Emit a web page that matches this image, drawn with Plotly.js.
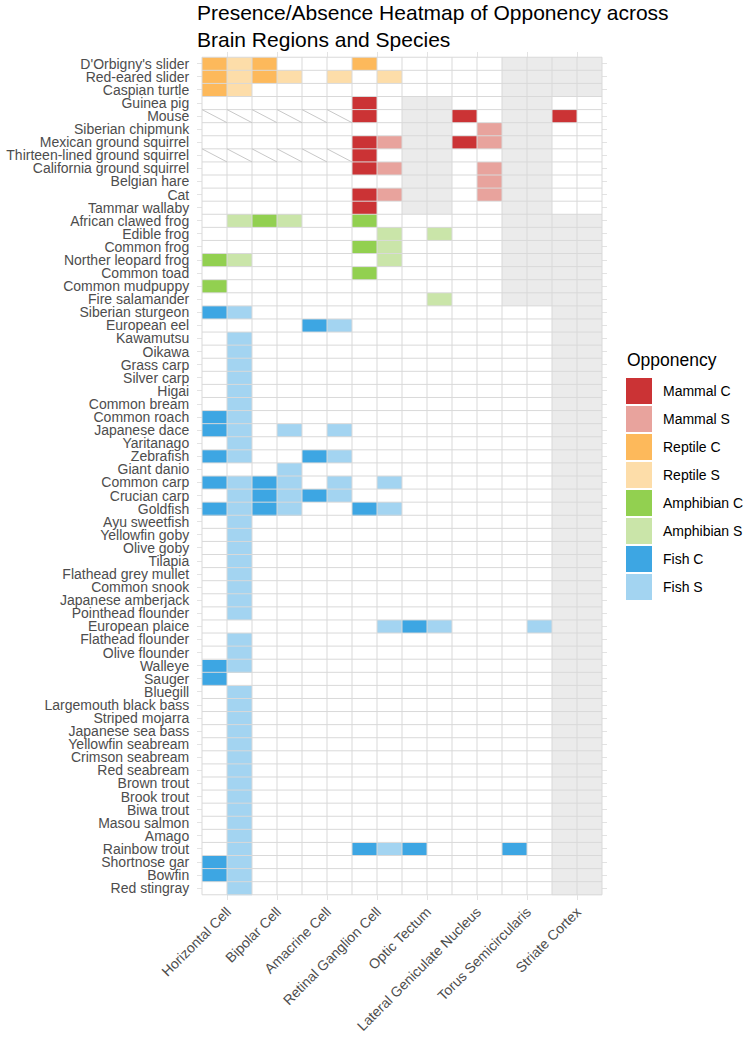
<!DOCTYPE html>
<html>
<head>
<meta charset="utf-8">
<script src="https://cdn.plot.ly/plotly-3.0.1.min.js"></script>
<style>
  html, body { margin: 0; padding: 0; background: #ffffff; }
  #chart { width: 748px; height: 1038px; }
</style>
</head>
<body>
<div id="chart"></div>
<script>
// Brain regions along the x axis; each region is split into a C and an S column
const regions = ['Horizontal Cell', 'Bipolar Cell', 'Amacrine Cell', 'Retinal Ganglion Cell',
  'Optic Tectum', 'Lateral Geniculate Nucleus', 'Torus Semicircularis', 'Striate Cortex'];
const opponencyKinds = ['C', 'S'];

// Species, top to bottom
const species = [
  "D'Orbigny's slider", 'Red-eared slider', 'Caspian turtle',
  'Guinea pig', 'Mouse', 'Siberian chipmunk', 'Mexican ground squirrel',
  'Thirteen-lined ground squirrel', 'California ground squirrel', 'Belgian hare', 'Cat', 'Tammar wallaby',
  'African clawed frog', 'Edible frog', 'Common frog', 'Norther leopard frog', 'Common toad',
  'Common mudpuppy', 'Fire salamander',
  'Siberian sturgeon', 'European eel', 'Kawamutsu', 'Oikawa', 'Grass carp', 'Silver carp', 'Higai',
  'Common bream', 'Common roach', 'Japanese dace', 'Yaritanago', 'Zebrafish', 'Giant danio',
  'Common carp', 'Crucian carp', 'Goldfish', 'Ayu sweetfish', 'Yellowfin goby', 'Olive goby', 'Tilapia',
  'Flathead grey mullet', 'Common snook', 'Japanese amberjack', 'Pointhead flounder', 'European plaice',
  'Flathead flounder', 'Olive flounder', 'Walleye', 'Sauger', 'Bluegill', 'Largemouth black bass',
  'Striped mojarra', 'Japanese sea bass', 'Yellowfin seabream', 'Crimson seabream', 'Red seabream',
  'Brown trout', 'Brook trout', 'Biwa trout', 'Masou salmon', 'Amago', 'Rainbow trout',
  'Shortnose gar', 'Bowfin', 'Red stingray'
];

// Vertebrate class of each species (same order as above)
const speciesClass = [
  'Reptile', 'Reptile', 'Reptile',
  'Mammal', 'Mammal', 'Mammal', 'Mammal', 'Mammal', 'Mammal', 'Mammal', 'Mammal', 'Mammal',
  'Amphibian', 'Amphibian', 'Amphibian', 'Amphibian', 'Amphibian', 'Amphibian', 'Amphibian',
  'Fish', 'Fish', 'Fish', 'Fish', 'Fish', 'Fish', 'Fish', 'Fish', 'Fish', 'Fish', 'Fish',
  'Fish', 'Fish', 'Fish', 'Fish', 'Fish', 'Fish', 'Fish', 'Fish', 'Fish', 'Fish', 'Fish',
  'Fish', 'Fish', 'Fish', 'Fish', 'Fish', 'Fish', 'Fish', 'Fish', 'Fish', 'Fish', 'Fish',
  'Fish', 'Fish', 'Fish', 'Fish', 'Fish', 'Fish', 'Fish', 'Fish', 'Fish', 'Fish', 'Fish', 'Fish'
];

// Presence per region as C/S pairs: 1 = reported, 0 = not reported, x = no data
const presence = [
  '11 10 00 10 00 00 00 00', '11 11 01 01 00 00 00 00', '11 00 00 00 00 00 00 00',
  '00 00 00 10 00 00 00 00', 'xx xx xx 10 00 10 00 10', '00 00 00 00 00 01 00 00',
  '00 00 00 11 00 11 00 00', 'xx xx xx 10 00 00 00 00', '00 00 00 11 00 01 00 00',
  '00 00 00 00 00 01 00 00', '00 00 00 11 00 01 00 00', '00 00 00 10 00 00 00 00',
  '01 11 00 10 00 00 00 00', '00 00 00 01 01 00 00 00', '00 00 00 11 00 00 00 00',
  '11 00 00 01 00 00 00 00', '00 00 00 10 00 00 00 00', '10 00 00 00 00 00 00 00',
  '00 00 00 00 01 00 00 00',
  '11 00 00 00 00 00 00 00', '00 00 11 00 00 00 00 00', '01 00 00 00 00 00 00 00',
  '01 00 00 00 00 00 00 00', '01 00 00 00 00 00 00 00', '01 00 00 00 00 00 00 00',
  '01 00 00 00 00 00 00 00', '01 00 00 00 00 00 00 00', '11 00 00 00 00 00 00 00',
  '11 01 01 00 00 00 00 00', '01 00 00 00 00 00 00 00', '11 00 11 00 00 00 00 00',
  '00 01 00 00 00 00 00 00', '11 11 01 01 00 00 00 00', '01 11 11 00 00 00 00 00',
  '11 11 00 11 00 00 00 00', '01 00 00 00 00 00 00 00', '01 00 00 00 00 00 00 00',
  '01 00 00 00 00 00 00 00', '01 00 00 00 00 00 00 00', '01 00 00 00 00 00 00 00',
  '01 00 00 00 00 00 00 00', '01 00 00 00 00 00 00 00', '01 00 00 00 00 00 00 00',
  '00 00 00 01 11 00 01 00', '01 00 00 00 00 00 00 00', '01 00 00 00 00 00 00 00',
  '11 00 00 00 00 00 00 00', '10 00 00 00 00 00 00 00', '01 00 00 00 00 00 00 00',
  '01 00 00 00 00 00 00 00', '01 00 00 00 00 00 00 00', '01 00 00 00 00 00 00 00',
  '01 00 00 00 00 00 00 00', '01 00 00 00 00 00 00 00', '01 00 00 00 00 00 00 00',
  '01 00 00 00 00 00 00 00', '01 00 00 00 00 00 00 00', '01 00 00 00 00 00 00 00',
  '01 00 00 00 00 00 00 00', '01 00 00 00 00 00 00 00', '01 00 00 11 10 00 10 00',
  '11 00 00 00 00 00 00 00', '11 00 00 00 00 00 00 00', '01 00 00 00 00 00 00 00'
];

// Regions that do not apply to a class (shaded grey)
const reptileGrey = ['Torus Semicircularis', 'Striate Cortex'];
const mammalGrey = ['Optic Tectum', 'Torus Semicircularis'];
const amphibianGrey = ['Torus Semicircularis', 'Striate Cortex'];
const fishGrey = ['Striate Cortex'];

// Legend categories and their fills
const legendLabels = ['Mammal C', 'Mammal S', 'Reptile C', 'Reptile S',
  'Amphibian C', 'Amphibian S', 'Fish C', 'Fish S'];
const legendColors = ['#CB3335', '#E8A39D', '#FDB95B', '#FDDDA9',
  '#92D050', '#CAE5A9', '#3DA6E3', '#A3D4F1'];
const absentColor = '#FFFFFF';
const greyColor = '#EBEBEB';

const greyByClass = { Reptile: reptileGrey, Mammal: mammalGrey, Amphibian: amphibianGrey, Fish: fishGrey };

// Column positions 1..16 (region r: C at 2r+1, S at 2r+2)
const nCols = regions.length * opponencyKinds.length;
const xCols = Array.from({ length: nCols }, (_, j) => j + 1);
const yRows = species.map((_, i) => i);

// z codes: 0 = absent, 1..8 = legend category, 9 = not applicable
const z = [];
const hatched = [];
species.forEach((sp, i) => {
  const cls = speciesClass[i];
  const bits = presence[i].replace(/ /g, '').split('');
  z.push(bits.map((b, j) => {
    const region = regions[Math.floor(j / 2)];
    const kind = opponencyKinds[j % 2];
    if (greyByClass[cls].includes(region)) return 9;
    if (b === 'x') { hatched.push([xCols[j], yRows[i]]); return 0; }
    if (b === '1') return legendLabels.indexOf(cls + ' ' + kind) + 1;
    return 0;
  }));
});

// Stepped colour scale for codes 0..9
const palette = [absentColor].concat(legendColors, [greyColor]);
const nCodes = palette.length - 1;
const colorscale = [];
palette.forEach((c, k) => {
  const lo = k === 0 ? 0 : (k - 0.5) / nCodes;
  const hi = k === nCodes ? 1 : (k + 0.5) / nCodes;
  colorscale.push([lo, c], [hi, c]);
});

const heat = {
  type: 'heatmap',
  x: xCols,
  y: yRows,
  z: z,
  zmin: 0,
  zmax: nCodes,
  colorscale: colorscale,
  showscale: false,
  hoverinfo: 'skip'
};

// Cell borders and hatching for cells without data
const lineCol = '#D9D9D9';
const shapes = [];
for (let j = 0; j <= nCols; j++) {
  shapes.push({ type: 'line', xref: 'x', yref: 'y', layer: 'above',
    x0: j + 0.5, x1: j + 0.5, y0: -0.5, y1: species.length - 0.5,
    line: { color: lineCol, width: 1 } });
}
for (let i = 0; i <= species.length; i++) {
  shapes.push({ type: 'line', xref: 'x', yref: 'y', layer: 'above',
    x0: 0.5, x1: nCols + 0.5, y0: i - 0.5, y1: i - 0.5,
    line: { color: lineCol, width: 1 } });
}
hatched.forEach(([cx, cy]) => {
  shapes.push({ type: 'line', xref: 'x', yref: 'y', layer: 'above',
    x0: cx - 0.5, x1: cx + 0.5, y0: cy - 0.5, y1: cy + 0.5,
    line: { color: '#C8C8C8', width: 1 } });
});

// Plot area geometry (px) used for the hand-built legend
const W = 748, H = 1038;
const margin = { l: 197, r: 141, t: 52, b: 138 };
const plotW = W - margin.l - margin.r;
const plotH = H - margin.t - margin.b;
const px2x = px => (px - margin.l) / plotW;
const px2y = py => (H - margin.b - py) / plotH;

const font = 'Liberation Sans, Arial, sans-serif';
const annotations = [{
  xref: 'paper', yref: 'paper', x: px2x(625), y: px2y(360),
  xanchor: 'left', yanchor: 'middle', showarrow: false,
  text: 'Opponency', font: { family: font, size: 17.5, color: '#000000' }
}];
const keySize = 26, keyStep = 28, keyTop = 378;
legendLabels.forEach((lab, k) => {
  const top = keyTop + k * keyStep;
  shapes.push({ type: 'rect', xref: 'paper', yref: 'paper', layer: 'above',
    x0: px2x(626), x1: px2x(626 + keySize), y0: px2y(top), y1: px2y(top + keySize),
    fillcolor: legendColors[k], line: { width: 0 } });
  annotations.push({ xref: 'paper', yref: 'paper', x: px2x(661), y: px2y(top + keySize / 2),
    xanchor: 'left', yanchor: 'middle', showarrow: false,
    text: lab, font: { family: font, size: 14, color: '#000000' } });
});

const layout = {
  width: W,
  height: H,
  margin: margin,
  paper_bgcolor: '#FFFFFF',
  plot_bgcolor: '#FFFFFF',
  font: { family: font },
  showlegend: false,
  title: {
    text: 'Presence/Absence Heatmap of Opponency across<br>Brain Regions and Species',
    font: { family: font, size: 21, color: '#000000' },
    xref: 'container', yref: 'container',
    x: 197 / W, xanchor: 'left',
    y: 1 - 20 / H, yanchor: 'top'
  },
  xaxis: {
    range: [0.3, nCols + 0.7],
    tickvals: regions.map((_, r) => 2 * r + 1.5),
    ticktext: regions,
    tickangle: -45,
    tickfont: { family: font, size: 14, color: '#4D4D4D' },
    showgrid: true, gridcolor: '#E3E3E3', gridwidth: 1,
    zeroline: false, showline: false, ticks: '', fixedrange: true
  },
  yaxis: {
    range: [species.length - 0.5 + 0.4, -0.5 - 0.4],
    tickvals: yRows,
    ticktext: species,
    tickfont: { family: font, size: 14, color: '#4D4D4D' },
    showgrid: true, gridcolor: '#E3E3E3', gridwidth: 1,
    zeroline: false, showline: false,
    ticks: 'outside', ticklen: 4, tickcolor: 'rgba(0,0,0,0)',
    fixedrange: true
  },
  shapes: shapes,
  annotations: annotations
};

Plotly.newPlot('chart', [heat], layout, { displayModeBar: false, staticPlot: true });
</script>
</body>
</html>
